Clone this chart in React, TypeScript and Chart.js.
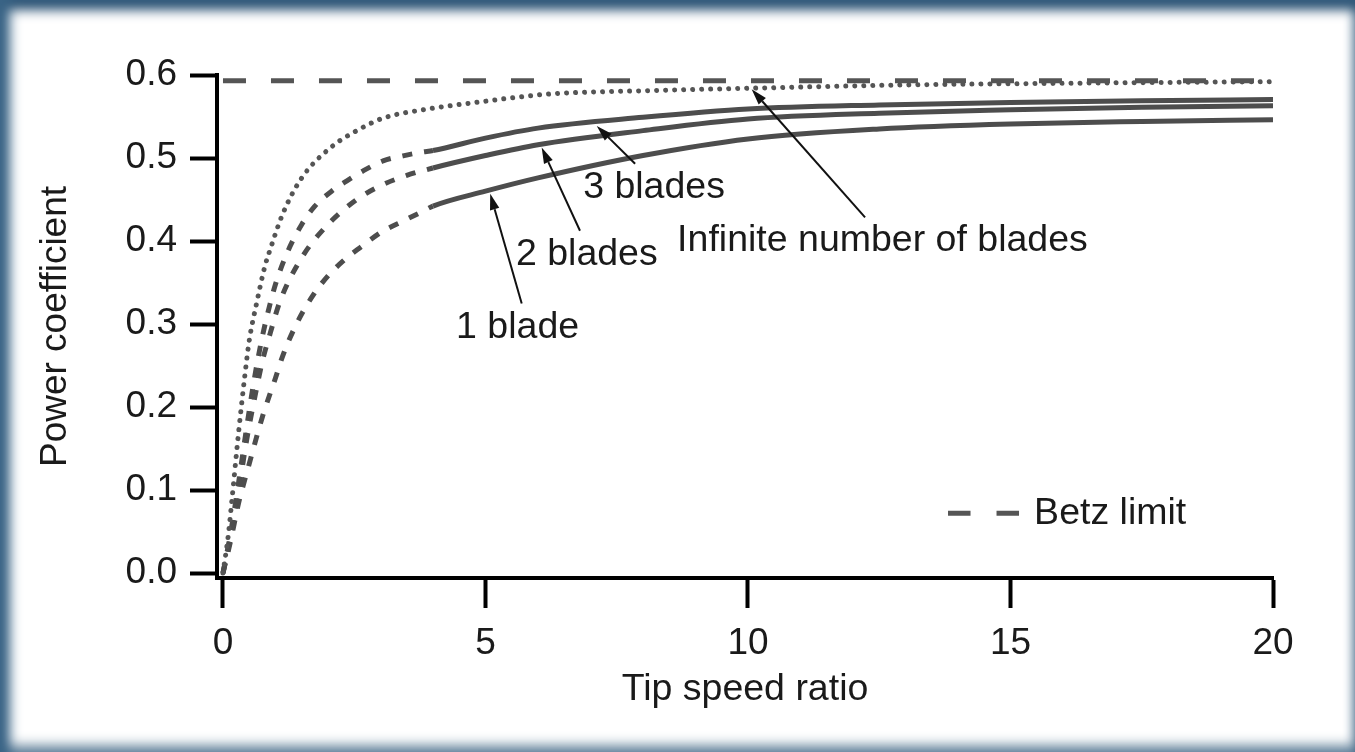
import React, { useEffect, useRef } from "react";
import { Chart, registerables } from "chart.js";

Chart.register(...registerables);

const FONT = '"Liberation Sans", Arial, Helvetica, sans-serif';

const xTicks = [0, 5, 10, 15, 20];
const yTicks = [0, 0.1, 0.2, 0.3, 0.4, 0.5, 0.6];

const betzX = [0, 20];
const betzY = [0.593, 0.593];

const infX = [0, 0.1, 0.17, 0.29, 0.42, 0.5, 0.64, 0.8, 0.9, 1.14, 1.5, 2.04, 2.55, 3.05, 3.9, 4.7, 6.2, 8, 10, 13, 16, 20];
const infY = [0, 0.045, 0.088, 0.165, 0.24, 0.28, 0.325, 0.37, 0.39, 0.433, 0.476, 0.512, 0.533, 0.548, 0.559, 0.566, 0.577, 0.581, 0.584, 0.588, 0.59, 0.592];

const blade3X = [0, 0.15, 0.3, 0.45, 0.6, 0.75, 0.9, 1.0, 1.21, 1.5, 1.75, 2.07, 2.36, 2.67, 3.05, 3.43, 3.78, 4, 5, 6, 8, 10, 12.5, 15, 17.5, 20];
const blade3Y = [0, 0.05, 0.11, 0.175, 0.235, 0.285, 0.325, 0.348, 0.384, 0.42, 0.442, 0.46, 0.4725, 0.4845, 0.4966, 0.5026, 0.507, 0.509, 0.524, 0.536, 0.549, 0.559, 0.564, 0.567, 0.569, 0.5705];

const blade2X = [0, 0.15, 0.3, 0.45, 0.6, 0.75, 0.9, 1.09, 1.5, 2.0, 2.55, 3.05, 3.5, 4, 5, 6, 8, 10, 12.5, 15, 17.5, 20];
const blade2Y = [0, 0.045, 0.1, 0.16, 0.21, 0.255, 0.289, 0.328, 0.38, 0.42, 0.45, 0.468, 0.479, 0.488, 0.503, 0.516, 0.533, 0.547, 0.554, 0.558, 0.561, 0.563];

const blade1X = [0, 0.15, 0.3, 0.48, 0.76, 1.0, 1.14, 1.4, 1.72, 2.0, 2.29, 2.61, 3.05, 3.43, 3.81, 4, 5, 6, 8, 10, 12.5, 15, 17.5, 20];
const blade1Y = [0, 0.04, 0.085, 0.127, 0.19, 0.235, 0.262, 0.3, 0.335, 0.358, 0.376, 0.392, 0.412, 0.424, 0.436, 0.442, 0.46, 0.476, 0.503, 0.523, 0.535, 0.541, 0.544, 0.546];

const solidFrom = 4;

const labelTexts = ["3 blades", "2 blades", "1 blade", "Infinite number of blades"];
const labelX = [6.86, 5.58, 4.44, 8.65];
const labelY = [0.464, 0.3836, 0.2958, 0.4004];

const arrowFromX = [7.85, 6.8, 5.69, 12.23];
const arrowFromY = [0.493, 0.4124, 0.3246, 0.4284];
const arrowToX = [7.12, 6.07, 5.09, 10.07];
const arrowToY = [0.5387, 0.5126, 0.4569, 0.5828];

const legendText = "Betz limit";
const legendLineX = [13.81, 15.18];
const legendTextX = 15.45;
const legendY = 0.0721;

const zip = (xs: number[], ys: number[]) => xs.map((x, i) => ({ x, y: ys[i] }));

const annotationPlugin = {
  id: "annotations",
  afterDatasetsDraw(chart: any) {
    const { ctx } = chart;
    const xs = chart.scales.x;
    const ys = chart.scales.y;
    ctx.save();
    ctx.strokeStyle = "#111";
    ctx.fillStyle = "#111";
    ctx.lineWidth = 2;
    for (let i = 0; i < arrowFromX.length; i++) {
      const x1 = xs.getPixelForValue(arrowFromX[i]);
      const y1 = ys.getPixelForValue(arrowFromY[i]);
      const x2 = xs.getPixelForValue(arrowToX[i]);
      const y2 = ys.getPixelForValue(arrowToY[i]);
      const ang = Math.atan2(y2 - y1, x2 - x1);
      const headLen = 16;
      const headW = 4.8;
      const bx = x2 - headLen * Math.cos(ang);
      const by = y2 - headLen * Math.sin(ang);
      ctx.beginPath();
      ctx.moveTo(x1, y1);
      ctx.lineTo(bx, by);
      ctx.stroke();
      ctx.beginPath();
      ctx.moveTo(x2, y2);
      ctx.lineTo(bx + headW * Math.sin(ang), by - headW * Math.cos(ang));
      ctx.lineTo(bx - headW * Math.sin(ang), by + headW * Math.cos(ang));
      ctx.closePath();
      ctx.fill();
    }
    ctx.fillStyle = "#1a1a1a";
    ctx.font = `37.5px ${FONT}`;
    ctx.textAlign = "left";
    ctx.textBaseline = "middle";
    for (let i = 0; i < labelTexts.length; i++) {
      ctx.fillText(labelTexts[i], xs.getPixelForValue(labelX[i]), ys.getPixelForValue(labelY[i]));
    }
    // legend
    const ly = ys.getPixelForValue(legendY);
    ctx.strokeStyle = "#555";
    ctx.lineWidth = 5;
    ctx.setLineDash([22.5, 26]);
    ctx.beginPath();
    ctx.moveTo(xs.getPixelForValue(legendLineX[0]), ly);
    ctx.lineTo(xs.getPixelForValue(legendLineX[1]), ly);
    ctx.stroke();
    ctx.setLineDash([]);
    ctx.fillText(legendText, xs.getPixelForValue(legendTextX), ly);
    ctx.restore();
  },
};

const dashSeg = (c: any) => (c.p0.parsed.x < solidFrom - 1e-6 ? [10, 12] : undefined);

export default function App() {
  const ref = useRef<HTMLCanvasElement | null>(null);
  useEffect(() => {
    if (!ref.current) return;
    const chart = new Chart(ref.current, {
      type: "line",
      data: {
        datasets: [
          {
            label: "Betz limit",
            data: zip(betzX, betzY),
            borderColor: "#555",
            borderWidth: 5,
            borderDash: [23, 25],
            pointRadius: 0,
          },
          {
            label: "Infinite number of blades",
            data: zip(infX, infY),
            borderColor: "#555",
            borderWidth: 5,
            borderDash: [0.01, 9],
            borderCapStyle: "round",
            cubicInterpolationMode: "monotone",
            pointRadius: 0,
          },
          {
            label: "3 blades",
            data: zip(blade3X, blade3Y),
            borderColor: "#4d4d4d",
            borderWidth: 5,
            cubicInterpolationMode: "monotone",
            segment: { borderDash: dashSeg },
            pointRadius: 0,
          },
          {
            label: "2 blades",
            data: zip(blade2X, blade2Y),
            borderColor: "#4d4d4d",
            borderWidth: 5,
            cubicInterpolationMode: "monotone",
            segment: { borderDash: dashSeg },
            pointRadius: 0,
          },
          {
            label: "1 blade",
            data: zip(blade1X, blade1Y),
            borderColor: "#4d4d4d",
            borderWidth: 5,
            cubicInterpolationMode: "monotone",
            segment: { borderDash: dashSeg },
            pointRadius: 0,
          },
        ],
      } as any,
      options: {
        animation: false,
        responsive: false,
        maintainAspectRatio: false,
        layout: { padding: { left: 0, top: 75, right: 82, bottom: 0 } },
        plugins: { legend: { display: false }, tooltip: { enabled: false } },
        scales: {
          x: {
            type: "linear",
            min: -0.114,
            max: 20,
            afterBuildTicks: (s: any) => {
              s.ticks = xTicks.map((v) => ({ value: v }));
            },
            afterFit: (s: any) => {
              s.height = 174;
            },
            grid: { drawOnChartArea: false, drawTicks: true, tickLength: 30, tickWidth: 4, tickColor: "#000" },
            border: { display: true, width: 4, color: "#000" },
            ticks: {
              font: { family: FONT, size: 37 },
              color: "#1a1a1a",
              padding: 14,
              maxRotation: 0,
              autoSkip: false,
              callback: (v: any) => String(v),
            },
            title: {
              display: true,
              text: "Tip speed ratio",
              font: { family: FONT, size: 37.5 },
              color: "#1a1a1a",
              padding: { top: 0, bottom: 40 },
            },
          },
          y: {
            type: "linear",
            min: -0.006,
            max: 0.6,
            afterBuildTicks: (s: any) => {
              s.ticks = yTicks.map((v) => ({ value: v }));
            },
            afterFit: (s: any) => {
              s.width = 217;
            },
            grid: { drawOnChartArea: false, drawTicks: true, tickLength: 27, tickWidth: 4, tickColor: "#000" },
            border: { display: true, width: 4, color: "#000" },
            ticks: {
              font: { family: FONT, size: 37 },
              color: "#1a1a1a",
              padding: 13,
              autoSkip: false,
              callback: (v: any) => Number(v).toFixed(1),
            },
            title: {
              display: true,
              text: "Power coefficient",
              font: { family: FONT, size: 37 },
              color: "#1a1a1a",
              padding: { top: 34, bottom: 0 },
            },
          },
        },
      } as any,
      plugins: [annotationPlugin],
    });
    return () => chart.destroy();
  }, []);

  return (
    <div
      style={{
        position: "absolute",
        left: 0,
        top: 0,
        width: 1355,
        height: 752,
        overflow: "hidden",
        background: "#ffffff",
        boxShadow:
          "inset 12px 0 12px -2px #3a6486, inset 0 12px 12px -2px #2c5374, inset 0 -12px 12px -4px #8aa1b3, inset -8px 0 10px -4px #c3d0da",
      }}
    >
      <canvas ref={ref} width={1355} height={752} style={{ position: "absolute", left: 0, top: 0, display: "block" }} />
    </div>
  );
}
